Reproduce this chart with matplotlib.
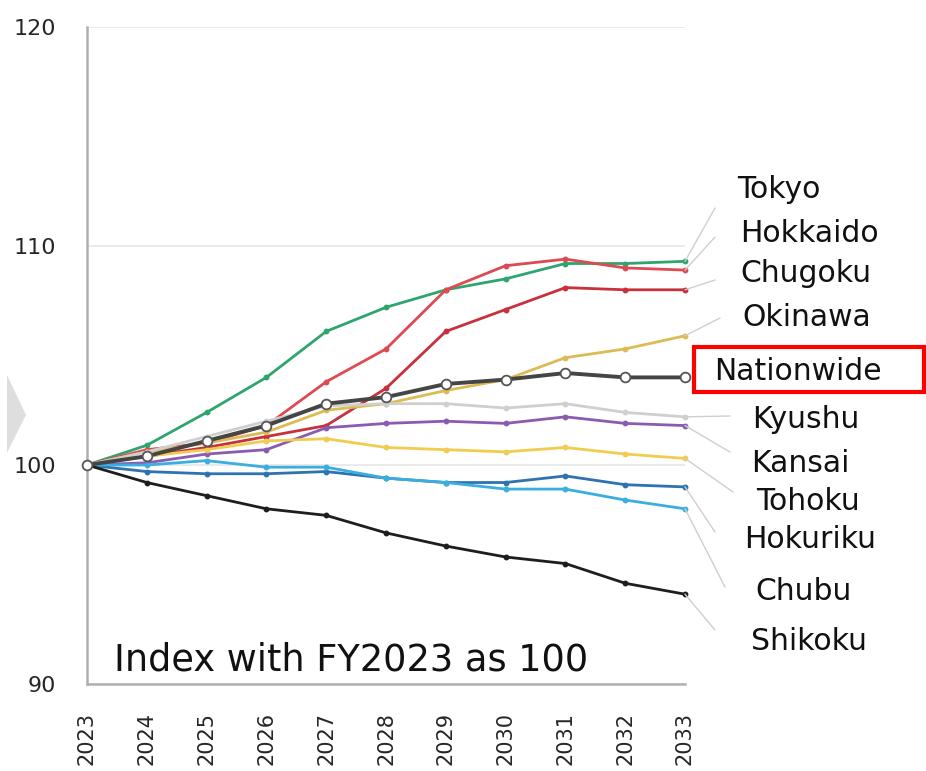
import matplotlib
matplotlib.use("Agg")
import matplotlib.pyplot as plt
from matplotlib.patches import Rectangle, Polygon

# Fiscal years on the horizontal axis
years = [2023, 2024, 2025, 2026, 2027, 2028, 2029, 2030, 2031, 2032, 2033]

# Index values by region (FY2023 = 100)
tokyo      = [100, 100.9, 102.4, 104.0, 106.1, 107.2, 108.0, 108.5, 109.2, 109.2, 109.3]
hokkaido   = [100, 100.7, 101.0, 101.8, 103.8, 105.3, 108.0, 109.1, 109.4, 109.0, 108.9]
chugoku    = [100, 100.4, 100.8, 101.3, 101.8, 103.5, 106.1, 107.1, 108.1, 108.0, 108.0]
okinawa    = [100, 100.6, 101.0, 101.5, 102.5, 102.8, 103.4, 103.9, 104.9, 105.3, 105.9]
nationwide = [100, 100.4, 101.1, 101.8, 102.8, 103.1, 103.7, 103.9, 104.2, 104.0, 104.0]
kyushu     = [100, 100.6, 101.3, 102.0, 102.7, 102.8, 102.8, 102.6, 102.8, 102.4, 102.2]
kansai     = [100, 100.1, 100.5, 100.7, 101.7, 101.9, 102.0, 101.9, 102.2, 101.9, 101.8]
tohoku     = [100, 100.4, 100.7, 101.1, 101.2, 100.8, 100.7, 100.6, 100.8, 100.5, 100.3]
hokuriku   = [100, 99.7, 99.6, 99.6, 99.7, 99.4, 99.2, 99.2, 99.5, 99.1, 99.0]
chubu      = [100, 100.0, 100.2, 99.9, 99.9, 99.4, 99.2, 98.9, 98.9, 98.4, 98.0]
shikoku    = [100, 99.2, 98.6, 98.0, 97.7, 96.9, 96.3, 95.8, 95.5, 94.6, 94.1]

y_ticks = [90, 100, 110, 120]
index_note = "Index with FY2023 as 100"

regions = [
    ("Tokyo",    tokyo,    "#2fa56e", (737, 582), (715, 563)),
    ("Hokkaido", hokkaido, "#de4a52", (740, 538), (715, 534)),
    ("Chugoku",  chugoku,  "#c8303c", (740, 498), (715, 491)),
    ("Okinawa",  okinawa,  "#dcbb55", (742, 453), (720, 453)),
    ("Kyushu",   kyushu,   "#cfcfcf", (752, 351), (730, 355)),
    ("Kansai",   kansai,   "#8a5bb0", (751, 308), (730, 319)),
    ("Tohoku",   tohoku,   "#f0cc50", (756, 269), (733, 279)),
    ("Hokuriku", hokuriku, "#2e72b0", (744, 231), (715, 239)),
    ("Chubu",    chubu,    "#3aaee0", (755, 180), (725, 184)),
    ("Shikoku",  shikoku,  "#1e1e1e", (751, 130), (715, 141)),
]

fig = plt.figure(figsize=(9.26, 7.71), dpi=100)
fig.patch.set_facecolor("white")
W, H = 926, 771
ax = fig.add_axes([87 / W, 87 / H, (685 - 87) / W, (744 - 87) / H])

ax.set_xlim(2023, 2033)
ax.set_ylim(90, 120)

for name, vals, color, _, _ in regions:
    ax.plot(years, vals, color=color, lw=2.0, marker="o", ms=3.2,
            mfc=color, mec=color, zorder=3, clip_on=False)

ax.plot(years, nationwide, color="#454545", lw=2.8, marker="o", ms=7,
        mfc="white", mec="#555555", mew=1.3, zorder=5, clip_on=False)

# Axes styling
ax.set_yticks(y_ticks)
ax.set_yticklabels([str(t) for t in y_ticks], fontsize=16, color="#262626")
ax.set_xticks(years)
ax.set_xticklabels([str(y) for y in years], rotation=90, fontsize=15,
                   color="#262626")
ax.tick_params(axis="y", length=0, pad=22)
ax.tick_params(axis="x", length=0, pad=20)
ax.grid(axis="y", color="#e6e6e6", lw=1.2, zorder=0)
for side in ("top", "right"):
    ax.spines[side].set_visible(False)
for side in ("left", "bottom"):
    ax.spines[side].set_color("#b0b0b0")
    ax.spines[side].set_linewidth(1.8)

fig.text(114 / W, (H - 660) / H, index_note, fontsize=26.5, color="#111111",
         ha="left", va="center")

# Leader lines and region labels on the right
for name, vals, color, (tx, ty), (lx, ly) in regions:
    ax.annotate("", xy=(2033, vals[-1]), xycoords="data",
                xytext=(lx, ly), textcoords="figure pixels",
                arrowprops=dict(arrowstyle="-", color="#cfcfcf", lw=1.0,
                                shrinkA=0, shrinkB=0))
    fig.text(tx / W, ty / H, name, fontsize=21.5, color="#111111",
             ha="left", va="center")

# Nationwide label with its red frame
fig.text(714 / W, 399 / H, "Nationwide", fontsize=21.5, color="#111111",
         ha="left", va="center")
fig.patches.append(Rectangle((694 / W, 379 / H), (924 - 694) / W, 45 / H,
                             transform=fig.transFigure, fill=False,
                             edgecolor="#ff0000", lw=3.0))

# Gray chevron at the left edge
fig.patches.append(Polygon([(7 / W, 396 / H), (26 / W, 356 / H),
                            (7 / W, 318 / H)], closed=True,
                           transform=fig.transFigure, facecolor="#dedede",
                           edgecolor="none"))

fig.savefig("out.png", dpi=100)
